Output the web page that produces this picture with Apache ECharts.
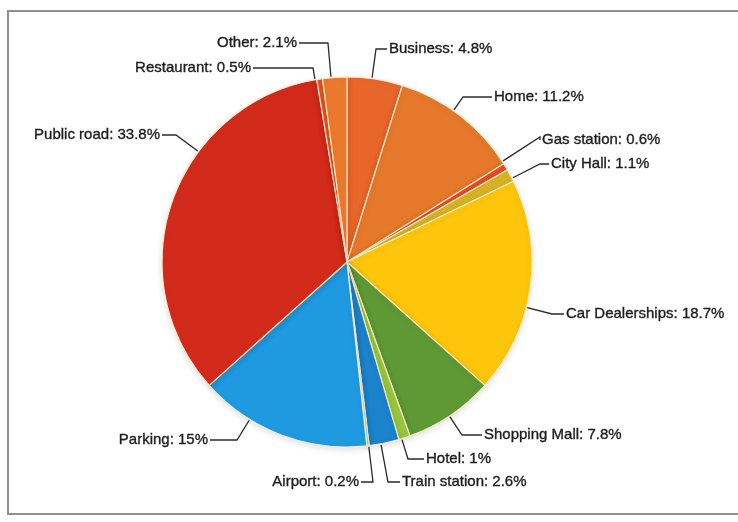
<!DOCTYPE html>
<html>
<head>
<meta charset="utf-8">
<script src="https://cdn.jsdelivr.net/npm/echarts@6/dist/echarts.min.js"></script>
<style>
  html, body { margin: 0; padding: 0; background: #ffffff; }
  #chart { width: 738px; height: 522px; }
</style>
</head>
<body>
<div id="chart"></div>
<script>
// Locations, clockwise from 12 o'clock
const locations = [
  'Business', 'Home', 'Gas station', 'City Hall', 'Car Dealerships',
  'Shopping Mall', 'Hotel', 'Train station', 'Airport', 'Parking',
  'Public road', 'Restaurant', 'Other'
];
// Share of each location, in percent
const shares = [4.8, 11.2, 0.6, 1.1, 18.7, 7.8, 1, 2.6, 0.2, 15, 33.8, 0.5, 2.1];

const sliceColors = [
  '#e9662a', '#e5782a', '#ee4b22', '#d8b424', '#fdc60b',
  '#5f9934', '#98c83c', '#1a83cc', '#9ccbee', '#1e9ae0',
  '#d22b1b', '#e8561e', '#ec7a2c'
];

// Pie geometry (pixels)
const CX = 347, CY = 262, R = 185;

// Callout placement: text anchor (x, y), side of the text, elbow x of the leader
const callouts = {
  'Business':        { x: 389, y: 49,  side: 'left',  ex: 376 },
  'Home':            { x: 494, y: 97,  side: 'left',  ex: 463 },
  'Gas station':     { x: 542, y: 140, side: 'left',  ex: 540, ey: 137 },
  'City Hall':       { x: 551, y: 164, side: 'left',  ex: 540 },
  'Car Dealerships': { x: 566, y: 314, side: 'left',  ex: 552 },
  'Shopping Mall':   { x: 484, y: 435, side: 'left',  ex: 462 },
  'Hotel':           { x: 426, y: 459, side: 'left',  ex: 408 },
  'Train station':   { x: 402, y: 482, side: 'left',  ex: 388 },
  'Airport':         { x: 359, y: 482, side: 'right', ex: 373 },
  'Parking':         { x: 208, y: 440, side: 'right', ex: 237 },
  'Public road':     { x: 160, y: 135, side: 'right', ex: 176 },
  'Restaurant':      { x: 251, y: 68,  side: 'right', ex: 313 },
  'Other':           { x: 297, y: 43,  side: 'right', ex: 328 }
};

const chart = echarts.init(document.getElementById('chart'), null, { renderer: 'canvas' });

const option = {
  backgroundColor: '#ffffff',
  animation: false,
  graphic: [{
    type: 'rect',
    silent: true,
    z: -1,
    shape: { x: 8, y: 11, width: 740, height: 503 },
    style: { fill: 'none', stroke: '#8e8e8e', lineWidth: 2 }
  }],
  series: [{
    type: 'pie',
    center: [CX, CY],
    radius: R,
    startAngle: 90,
    clockwise: true,
    avoidLabelOverlap: false,
    data: locations.map((name, i) => ({
      name: name,
      value: shares[i],
      itemStyle: { color: sliceColors[i] }
    })),
    itemStyle: {
      borderColor: 'rgba(255,238,205,0.95)',
      borderWidth: 1.2,
      shadowBlur: 6,
      shadowColor: 'rgba(0,0,0,0.12)',
      shadowOffsetY: 2
    },
    label: {
      show: true,
      position: 'outside',
      formatter: '{b}: {c}%',
      fontFamily: '"Liberation Sans", Arial, Helvetica, sans-serif',
      fontSize: 15,
      color: '#1c1c1c',
      textBorderColor: '#1c1c1c',
      textBorderWidth: 0.35
    },
    labelLine: {
      show: true,
      length: 15,
      length2: 15,
      lineStyle: { color: '#2a2a2a', width: 1.3 }
    },
    labelLayout: function (params) {
      const name = locations[params.dataIndex];
      const c = callouts[name];
      if (!c) return {};
      const ey = c.ey != null ? c.ey : c.y;
      const dx = c.ex - CX, dy = ey - CY;
      const d = Math.sqrt(dx * dx + dy * dy);
      const edge = [CX + dx * (R + 1) / d, CY + dy * (R + 1) / d];
      const tip = c.side === 'left' ? [c.x - 2, c.y] : [c.x + 2, c.y];
      return {
        x: c.x,
        y: c.y,
        align: c.side,
        verticalAlign: 'middle',
        labelLinePoints: [edge, [c.ex, ey], tip]
      };
    }
  }]
};

chart.setOption(option);
</script>
</body>
</html>
